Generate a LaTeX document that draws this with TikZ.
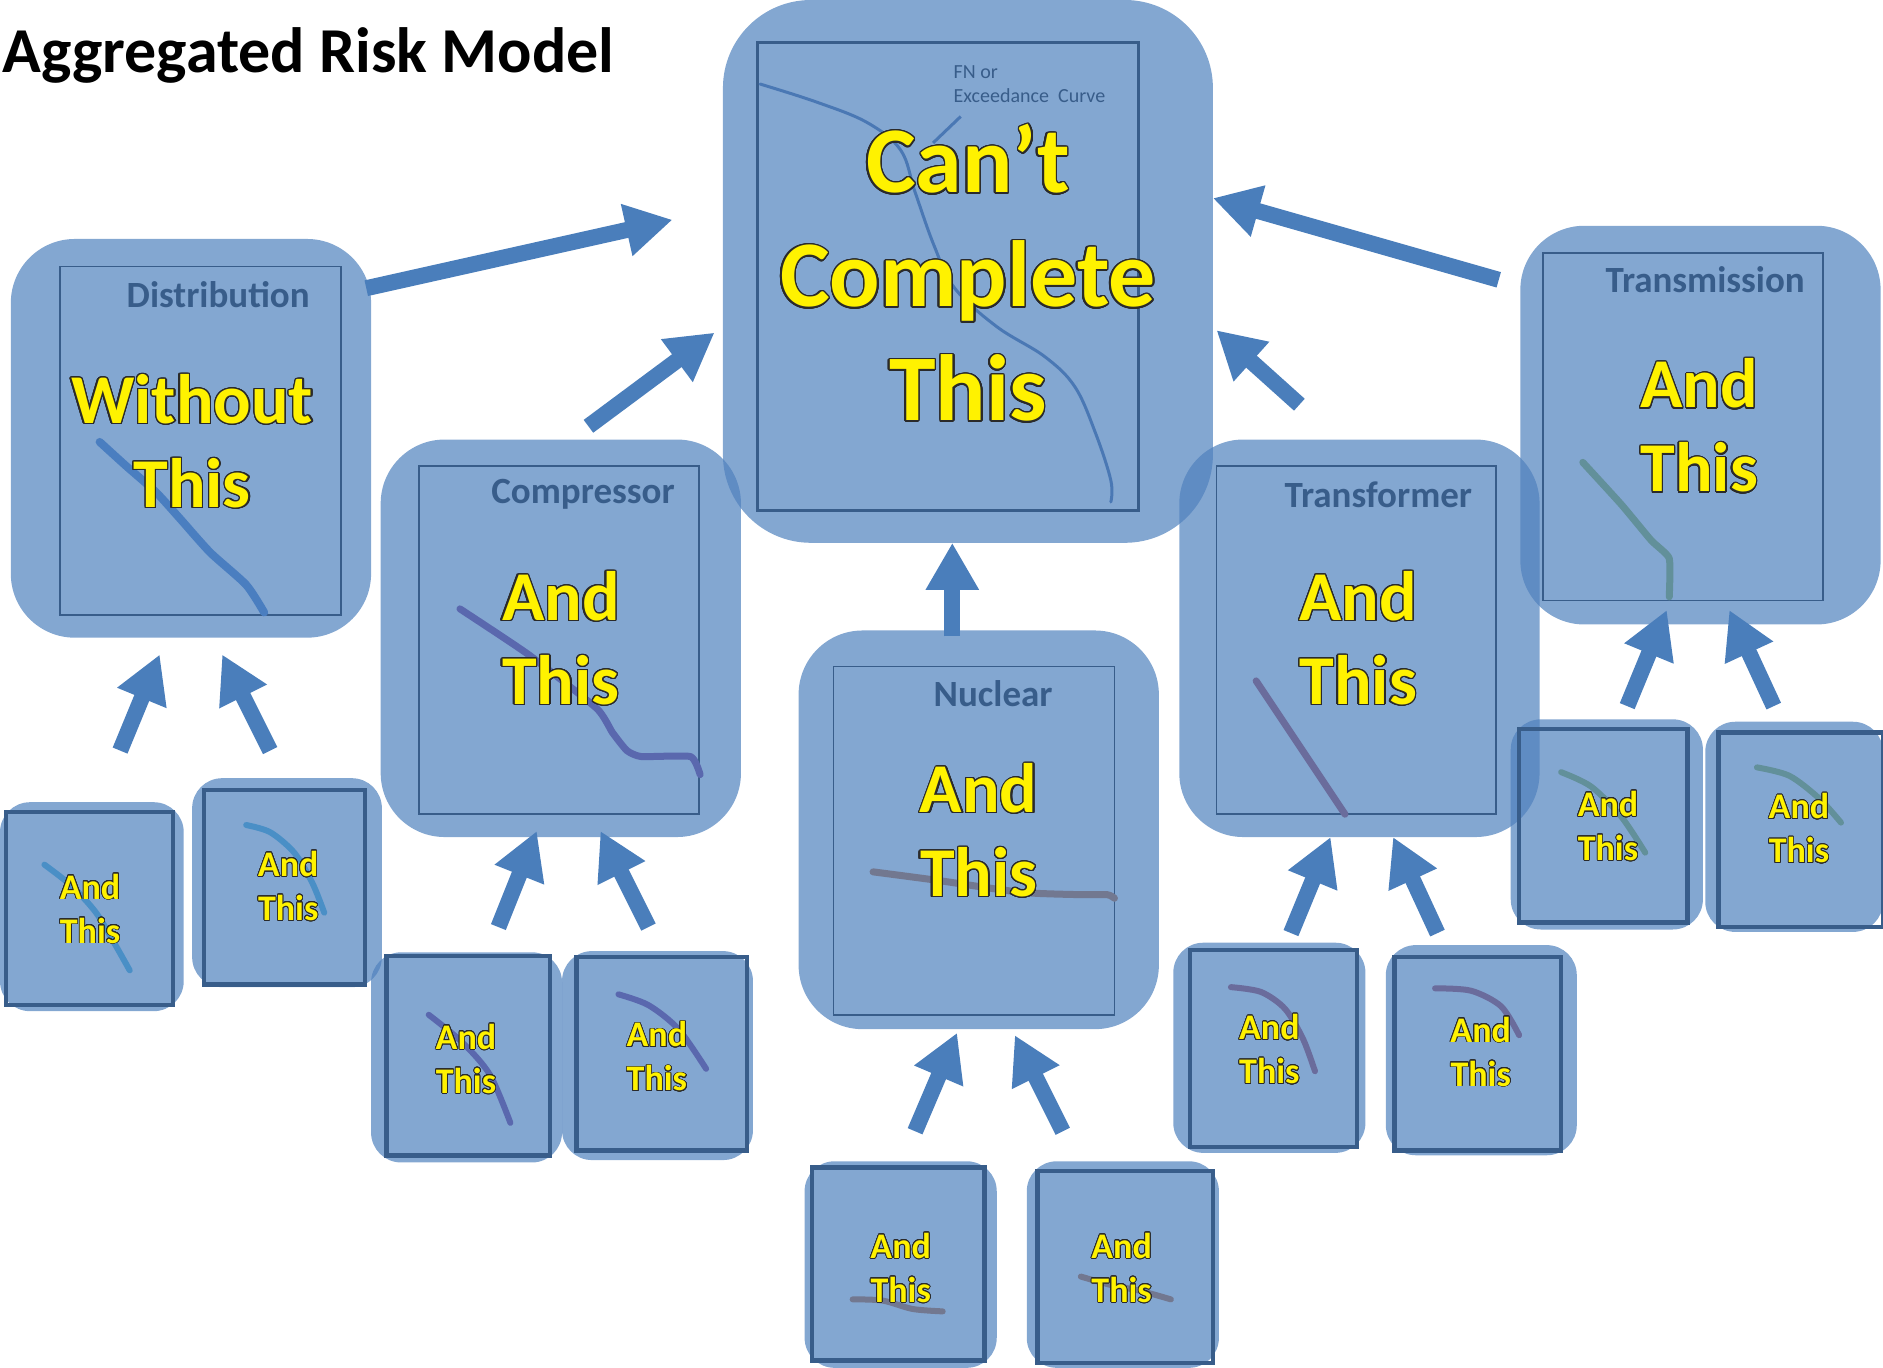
\documentclass[tikz,border=0pt]{standalone}
\usepackage{fontspec}
\setmainfont{Carlito}
\usepackage{contour}
\contournumber{24}
\usetikzlibrary{arrows.meta,fit}
\definecolor{boxfill}{HTML}{4F81BD}
\definecolor{arrowc}{HTML}{4A7EBB}
\definecolor{frame}{HTML}{385D8A}
\definecolor{outl}{HTML}{2A2A2A}
\definecolor{cblue}{HTML}{4A78B4}
\definecolor{cdist}{HTML}{4A7EC0}
\definecolor{cpurp}{HTML}{5A68AE}
\definecolor{cgrey}{HTML}{727890}
\definecolor{ctrans}{HTML}{6A6C9C}
\definecolor{cteal}{HTML}{62909A}
\definecolor{clight}{HTML}{4A8FC6}
\newcommand{\yo}[1]{\contour{outl}{#1}}
\begin{document}
\begin{tikzpicture}[x=1.2009pt,y=-1.2009pt,
  outerbox/.style={fill=boxfill, fill opacity=0.7, draw=none, inner sep=0pt, rounded corners=64pt},
  outersmall/.style={fill=boxfill, fill opacity=0.7, draw=none, inner sep=0pt, rounded corners=30pt},
  innerbig/.style={draw=frame, line width=1.8pt, inner sep=0pt},
  innersmall/.style={draw=frame, line width=4.5pt, inner sep=0pt},
  arr/.style={draw=arrowc, line width=16pt, -{Triangle[length=47pt,width=50pt]}},
  curve/.style={line width=#1, line cap=round, line join=round},
  bigtxt/.style={text=yellow, align=center, inner sep=0pt,
    font={\bfseries\fontsize{70}{84}\selectfont\contourlength{1.3pt}}},
  hugetxt/.style={text=yellow, align=center, inner sep=0pt,
    font={\bfseries\fontsize{94}{114}\selectfont\contourlength{1.6pt}}},
  smalltxt/.style={text=yellow, align=center, inner sep=0pt,
    font={\bfseries\fontsize{36}{44}\selectfont\contourlength{0.8pt}}},
  lbl/.style={text=frame, inner sep=0pt,
    font={\bfseries\fontsize{37}{44}\selectfont}}
]
\useasboundingbox (0,0) rectangle (1568,1139);

% title
\node[anchor=base west, inner sep=0pt, font={\bfseries\fontsize{64}{76}\selectfont}] (title) at (2,60) {Aggregated Risk Model};

% outer boxes
\node[outerbox, rounded corners=88pt, fit={(602,0)(1010,452)}] (C) {};
\node[outerbox, fit={(9,199)(309,531)}] (D) {};
\node[outerbox, fit={(317,366)(617,697)}] (Co) {};
\node[outerbox, fit={(665,525)(965,857)}] (N) {};
\node[outerbox, fit={(982,366)(1282,697)}] (T) {};
\node[outerbox, fit={(1266,188)(1566,520)}] (Tr) {};
\node[outersmall, fit={(0,668)(153,842)}] (S1) {};
\node[outersmall, fit={(160,648)(318,822)}] (S2) {};
\node[outersmall, fit={(309,793)(468,968)}] (S3) {};
\node[outersmall, fit={(468,792)(627,966)}] (S4) {};
\node[outersmall, fit={(670,967)(830,1139)}] (S5) {};
\node[outersmall, fit={(855,967)(1015,1139)}] (S6) {};
\node[outersmall, fit={(977,785)(1137,960)}] (S7) {};
\node[outersmall, fit={(1154,787)(1313,962)}] (S8) {};
\node[outersmall, fit={(1258,599)(1418,774)}] (S9) {};
\node[outersmall, fit={(1420,601)(1568,776)}] (S10) {};

% inner frames
\node[innerbig, line width=3pt, fit={(631,35)(948,425)}] (Ci) {};
\node[innerbig, fit={(50,222)(284,512)}] (Di) {};
\node[innerbig, fit={(349,388)(582,678)}] (Coi) {};
\node[innerbig, fit={(694,555)(928,845)}] (Ni) {};
\node[innerbig, fit={(1013,388)(1246,678)}] (Ti) {};
\node[innerbig, fit={(1285,211)(1518,500)}] (Tri) {};
\node[innersmall, fit={(5,676)(144,837)}] (S1i) {};
\node[innersmall, fit={(170,658)(304,820)}] (S2i) {};
\node[innersmall, fit={(322,796)(458,962)}] (S3i) {};
\node[innersmall, fit={(480,797)(622,958)}] (S4i) {};
\node[innersmall, fit={(676,972)(820,1133)}] (S5i) {};
\node[innersmall, fit={(864,975)(1010,1135)}] (S6i) {};
\node[innersmall, fit={(991,791)(1130,955)}] (S7i) {};
\node[innersmall, fit={(1161,797)(1300,958)}] (S8i) {};
\node[innersmall, fit={(1265,607)(1405,768)}] (S9i) {};
\node[innersmall, fit={(1431,610)(1568,772)}] (S10i) {};

% curves
\draw[curve=3pt, cblue] plot[smooth, tension=0.6] coordinates {(633,70) (680,85) (722,102) (750,125) (762,160) (778,205) (795,240) (830,272) (870,297) (895,322) (912,360) (925,400) (925,418)};
\draw[curve=8pt, cdist] plot[smooth, tension=0.4] coordinates {(83,368) (105,388) (130,410) (150,432) (175,460) (205,487) (220,510)};
\draw[curve=7pt, cpurp] plot[smooth, tension=0.3] coordinates {(383,507) (440,545) (497,590) (510,610) (522,625) (534,630) (575,630) (583,645)};
\draw[curve=7pt, cgrey] plot[smooth, tension=0.4] coordinates {(727,726) (780,733) (850,743) (900,745) (922,745) (928,748)};
\draw[curve=7pt, ctrans] (1046,567) -- (1120,678);
\draw[curve=7pt, cteal] plot[smooth, tension=0.3] coordinates {(1318,385) (1350,420) (1375,450) (1390,465) (1390,497)};
\draw[curve=6pt, clight] plot[smooth] coordinates {(37,720) (60,738) (80,760) (95,785) (108,808)};
\draw[curve=6pt, clight] plot[smooth] coordinates {(205,687) (225,693) (245,710) (260,735) (270,760)};
\draw[curve=6pt, cpurp] plot[smooth] coordinates {(357,845) (385,868) (408,895) (425,935)};
\draw[curve=6pt, cpurp] plot[smooth] coordinates {(515,828) (540,837) (565,857) (588,890)};
\draw[curve=6pt, cgrey] plot[smooth] coordinates {(710,1082) (735,1083) (760,1090) (785,1092)};
\draw[curve=6pt, cgrey] plot[smooth] coordinates {(900,1063) (925,1070) (950,1075) (975,1082)};
\draw[curve=6pt, ctrans] plot[smooth] coordinates {(1025,822) (1050,826) (1070,840) (1085,865) (1095,892)};
\draw[curve=6pt, ctrans] plot[smooth] coordinates {(1195,823) (1225,825) (1250,838) (1265,862)};
\draw[curve=6pt, cteal] plot[smooth] coordinates {(1300,643) (1325,655) (1350,680) (1370,710)};
\draw[curve=6pt, cteal] plot[smooth] coordinates {(1463,639) (1490,646) (1515,665) (1533,685)};

% FN label
\node[anchor=west, align=left, inner sep=0pt, text=frame, font={\fontsize{20}{24}\selectfont}] (fn) at (794,70) {FN or\\Exceedance~~Curve};
\coordinate (fnA) at (800,97);
\coordinate (fnB) at (777,119);
\draw[line width=3pt, cblue] (fnA) -- (fnB);

% labels
\node[lbl, anchor=east] (Dl) at (258,245) {Distribution};
\node[lbl, anchor=east] (Col) at (562,412) {Compressor};
\node[lbl] (Nl) at (827,578) {Nuclear};
\node[lbl, anchor=east] (Tl) at (1226,412) {Transformer};
\node[lbl, anchor=east] (Trl) at (1503,233) {Transmission};

% main texts
\node[hugetxt] (Ct) at (806,228) {\yo{Can’t}\\\yo{Complete}\\\yo{This}};
\node[bigtxt] (Dt) at (160,368) {\yo{Without}\\\yo{This}};
\node[bigtxt] (Cot) at (467,532) {\yo{And}\\\yo{This}};
\node[bigtxt] (Nt) at (815,692) {\yo{And}\\\yo{This}};
\node[bigtxt] (Tt) at (1131,532) {\yo{And}\\\yo{This}};
\node[bigtxt] (Trt) at (1415,355) {\yo{And}\\\yo{This}};
\node[smalltxt] (S1t) at (75,757) {\yo{And}\\\yo{This}};
\node[smalltxt] (S2t) at (240,738) {\yo{And}\\\yo{This}};
\node[smalltxt] (S3t) at (388,882) {\yo{And}\\\yo{This}};
\node[smalltxt] (S4t) at (547,880) {\yo{And}\\\yo{This}};
\node[smalltxt] (S5t) at (750,1056) {\yo{And}\\\yo{This}};
\node[smalltxt] (S6t) at (934,1056) {\yo{And}\\\yo{This}};
\node[smalltxt] (S7t) at (1057,874) {\yo{And}\\\yo{This}};
\node[smalltxt] (S8t) at (1233,876) {\yo{And}\\\yo{This}};
\node[smalltxt] (S9t) at (1339,688) {\yo{And}\\\yo{This}};
\node[smalltxt] (S10t) at (1498,690) {\yo{And}\\\yo{This}};

% arrow end points
\coordinate (a1s) at (305,240); \coordinate (a1e) at (560,183);
\coordinate (a2s) at (490,355); \coordinate (a2e) at (595,277);
\coordinate (a3s) at (793,530); \coordinate (a3e) at (793,452);
\coordinate (a4s) at (1082,337); \coordinate (a4e) at (1013,275);
\coordinate (a5s) at (1248,233); \coordinate (a5e) at (1010,165);
\coordinate (b1s) at (100,625); \coordinate (b1e) at (133,545);
\coordinate (b2s) at (225,625); \coordinate (b2e) at (185,545);
\coordinate (b3s) at (415,772); \coordinate (b3e) at (447,692);
\coordinate (b4s) at (540,772); \coordinate (b4e) at (500,692);
\coordinate (b5s) at (762,942); \coordinate (b5e) at (797,860);
\coordinate (b6s) at (885,942); \coordinate (b6e) at (845,862);
\coordinate (b7s) at (1075,777); \coordinate (b7e) at (1108,697);
\coordinate (b8s) at (1197,777); \coordinate (b8e) at (1160,697);
\coordinate (b9s) at (1355,588); \coordinate (b9e) at (1388,508);
\coordinate (b10s) at (1477,588); \coordinate (b10e) at (1440,508);

\foreach \s/\e in {a1s/a1e,a2s/a2e,a3s/a3e,a4s/a4e,a5s/a5e,b1s/b1e,b2s/b2e,b3s/b3e,b4s/b4e,b5s/b5e,b6s/b6e,b7s/b7e,b8s/b8e,b9s/b9e,b10s/b10e}
  \draw[arr] (\s) -- (\e);
\end{tikzpicture}
\end{document}
